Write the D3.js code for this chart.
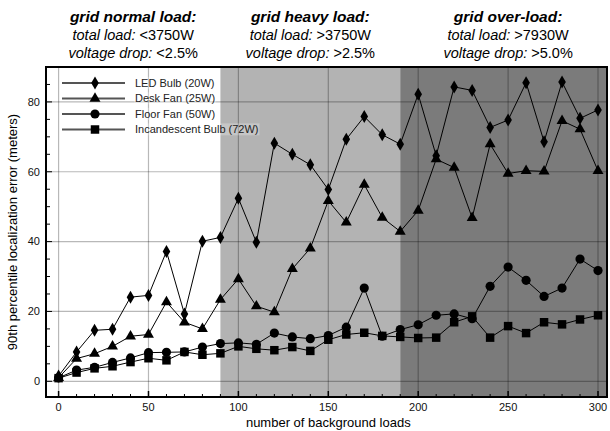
<!DOCTYPE html>
<html>
<head>
<meta charset="utf-8">
<script src="https://cdn.jsdelivr.net/npm/d3@7"></script>
<style>
  body { margin: 0; background: #fff; }
  text { font-family: "Liberation Sans", Arial, Helvetica, sans-serif; }
</style>
</head>
<body>
<div id="chart"></div>
<script>
const loads = [0, 10, 20, 30, 40, 50, 60, 70, 80, 90, 100, 110, 120, 130, 140, 150,
  160, 170, 180, 190, 200, 210, 220, 230, 240, 250, 260, 270, 280, 290, 300];

const ledBulb = [1.5, 8.4, 14.6, 14.9, 24.1, 24.6, 37.2, 19.3, 40.1, 41.2, 52.4, 39.8, 68.2, 65.0, 62.0, 54.9,
  69.3, 75.8, 70.6, 67.9, 82.2, 64.6, 84.3, 83.3, 72.7, 74.8, 85.5, 68.6, 85.7, 75.3, 77.7];
const deskFan = [1.0, 6.5, 7.9, 10.0, 12.9, 13.4, 22.7, 16.9, 15.0, 23.4, 29.3, 21.5, 19.8, 32.2, 38.1, 51.7,
  45.5, 56.3, 46.9, 42.9, 48.9, 63.6, 61.2, 46.8, 67.9, 59.5, 60.3, 60.1, 74.6, 72.2, 60.3];
const floorFan = [1.0, 3.2, 4.0, 5.4, 6.7, 8.2, 8.3, 8.4, 9.8, 10.8, 11.0, 10.6, 13.8, 12.7, 12.2, 13.1,
  15.5, 26.7, 12.9, 14.8, 16.2, 18.9, 19.3, 17.9, 27.2, 32.7, 28.9, 24.3, 26.7, 35.0, 31.7];
const incandescent = [0.9, 2.5, 3.7, 4.3, 5.5, 6.6, 6.0, 8.4, 7.6, 8.0, 10.0, 9.3, 8.9, 9.8, 8.7, 11.9,
  13.4, 13.9, 13.0, 12.7, 12.4, 12.5, 16.9, 18.6, 12.5, 15.8, 13.8, 16.9, 16.3, 17.7, 18.9];

const seriesNames = ["LED Bulb (20W)", "Desk Fan (25W)", "Floor Fan (50W)", "Incandescent Bulb (72W)"];
const seriesShapes = ["diamond", "triangle", "circle", "square"];

// load zones: normal < 90, heavy 90-190, over-load > 190
const zoneStarts = [-7, 90, 190];
const zoneEnds = [90, 190, 305];
const zoneLabelAt = [41.5, 140, 250];
const zoneColors = [null, "#b3b3b3", "#7b7b7b"];
const zoneTitles = ["grid normal load:", "grid heavy load:", "grid over-load:"];
const zoneLoads = ["<3750W", ">3750W", ">7930W"];
const zoneDrops = ["<2.5%", ">2.5%", ">5.0%"];

const xTicks = [0, 50, 100, 150, 200, 250, 300];
const yTicks = [0, 20, 40, 60, 80];

const W = 610, H = 431;
const margin = { top: 67, right: 3, bottom: 34, left: 46 };
const width = W - margin.left - margin.right,
      height = H - margin.top - margin.bottom;

const svg = d3.select("#chart").append("svg")
  .attr("width", W)
  .attr("height", H);

const g = svg.append("g")
  .attr("transform", `translate(${margin.left}, ${margin.top})`);

const x = d3.scaleLinear().domain([-7, 305]).range([0, width]);
const y = d3.scaleLinear().domain([-4.5, 90]).range([height, 0]);

// shaded zones
g.selectAll(".zone")
  .data(zoneStarts.map((s, i) => ({ s: s, e: zoneEnds[i], c: zoneColors[i] })).filter(d => d.c))
  .enter().append("rect")
  .attr("x", d => x(d.s))
  .attr("y", 0)
  .attr("width", d => x(d.e) - x(d.s))
  .attr("height", height)
  .attr("fill", d => d.c);

// grid
g.append("g").selectAll("line")
  .data(xTicks).enter().append("line")
  .attr("x1", d => x(d)).attr("x2", d => x(d))
  .attr("y1", 0).attr("y2", height)
  .attr("stroke", "#000").attr("stroke-opacity", 0.28).attr("stroke-width", 1.2);
g.append("g").selectAll("line")
  .data(yTicks).enter().append("line")
  .attr("x1", 0).attr("x2", width)
  .attr("y1", d => y(d)).attr("y2", d => y(d))
  .attr("stroke", "#000").attr("stroke-opacity", 0.28).attr("stroke-width", 1.2);

// axes (ticks inward)
const xMinor = d3.range(0, 301, 10);
const yMinor = d3.range(0, 90, 5);

const xAxis = g.append("g").attr("transform", `translate(0, ${height})`);
xAxis.selectAll(".minor").data(xMinor).enter().append("line")
  .attr("x1", d => x(d)).attr("x2", d => x(d))
  .attr("y1", 0).attr("y2", d => d % 50 === 0 ? -6 : -3)
  .attr("stroke", "#000").attr("stroke-width", d => d % 50 === 0 ? 1.5 : 1);
xAxis.selectAll("text").data(xTicks).enter().append("text")
  .attr("x", d => x(d)).attr("y", 14)
  .attr("text-anchor", "middle")
  .attr("font-size", 11)
  .attr("fill", "#111")
  .text(d => d);

const yAxis = g.append("g");
yAxis.selectAll("line").data(yMinor).enter().append("line")
  .attr("x1", 0).attr("x2", d => d % 20 === 0 ? 6 : 4)
  .attr("y1", d => y(d)).attr("y2", d => y(d))
  .attr("stroke", "#000").attr("stroke-width", 1);
yAxis.selectAll("text").data(yTicks).enter().append("text")
  .attr("x", -6).attr("y", d => y(d)).attr("dy", "0.35em")
  .attr("text-anchor", "end")
  .attr("font-size", 11)
  .attr("fill", "#111")
  .text(d => d);

// axis titles
svg.append("text")
  .attr("x", margin.left + x(150)).attr("y", 427)
  .attr("text-anchor", "middle").attr("font-size", 13)
  .text("number of background loads");
svg.append("text")
  .attr("transform", `translate(17, ${margin.top + height / 2}) rotate(-90)`)
  .attr("text-anchor", "middle").attr("font-size", 13)
  .text("90th percentile localization error (meters)");

// zone headers
zoneTitles.forEach((t, i) => {
  const cx = margin.left + x(zoneLabelAt[i]);
  svg.append("text").attr("x", cx).attr("y", 22)
    .attr("text-anchor", "middle").attr("font-size", 15.5)
    .attr("font-weight", "bold").attr("font-style", "italic")
    .text(t);
  const l2 = svg.append("text").attr("x", cx).attr("y", 40)
    .attr("text-anchor", "middle").attr("font-size", 14.5);
  l2.append("tspan").attr("font-style", "italic").text("total load:");
  l2.append("tspan").text(" " + zoneLoads[i]);
  const l3 = svg.append("text").attr("x", cx).attr("y", 58)
    .attr("text-anchor", "middle").attr("font-size", 14.5);
  l3.append("tspan").attr("font-style", "italic").text("voltage drop:");
  l3.append("tspan").text(" " + zoneDrops[i]);
});

// markers
function shapePath(shape) {
  if (shape === "diamond") return "M0,-6.5L3.8,0L0,6.5L-3.8,0Z";
  if (shape === "triangle") return d3.symbol(d3.symbolTriangle, 52)();
  if (shape === "circle") return d3.symbol(d3.symbolCircle, 66)();
  return d3.symbol(d3.symbolSquare, 72)();
}

const allSeries = [ledBulb, deskFan, floorFan, incandescent];
const line = d3.line().x((d, i) => x(loads[i])).y(d => y(d));

// legend
const legend = g.append("g");
seriesNames.forEach((name, i) => {
  const ly = 16 + i * 15.5;
  const tx = 89;
  const txt = legend.append("text")
    .attr("x", tx).attr("y", ly).attr("dy", "0.35em")
    .attr("font-size", 11).attr("fill", "#222")
    .text(name);
  const bb = txt.node().getBBox();
  legend.insert("rect", "text")
    .attr("x", bb.x - 1).attr("y", bb.y).attr("width", bb.width + 2).attr("height", bb.height)
    .attr("fill", "#fff").attr("fill-opacity", 0.25);
  legend.append("line")
    .attr("x1", 16).attr("x2", 79).attr("y1", ly).attr("y2", ly)
    .attr("stroke", "#555").attr("stroke-width", 2);
  legend.append("path")
    .attr("d", shapePath(seriesShapes[i]))
    .attr("transform", `translate(49, ${ly})`)
    .attr("fill", "#000");
});

// series (drawn back to front)
[3, 2, 1, 0].forEach(k => {
  const vals = allSeries[k];
  g.append("path").datum(vals)
    .attr("d", line)
    .attr("fill", "none").attr("stroke", "#000").attr("stroke-width", 1);
  g.append("g").selectAll("path")
    .data(vals).enter().append("path")
    .attr("d", shapePath(seriesShapes[k]))
    .attr("transform", (d, i) => `translate(${x(loads[i])}, ${y(d)})`)
    .attr("fill", "#000");
});

// frame
g.append("rect")
  .attr("width", width).attr("height", height)
  .attr("fill", "none").attr("stroke", "#000").attr("stroke-width", 2);
</script>
</body>
</html>
